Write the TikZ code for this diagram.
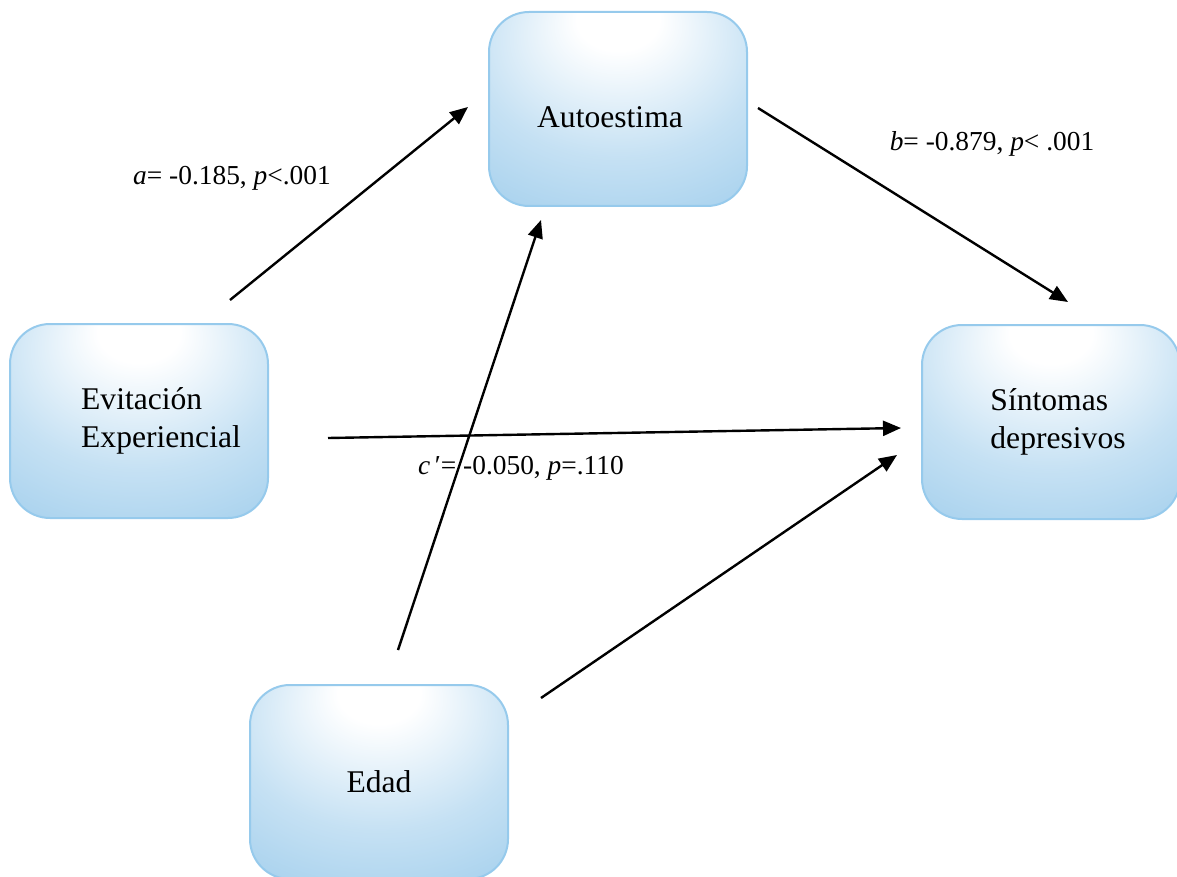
\documentclass[tikz,border=0pt]{standalone}
\usepackage{fontspec}
\setmainfont{Liberation Serif}
\usetikzlibrary{arrows.meta}
\definecolor{boxedge}{RGB}{150,202,236}
\definecolor{boxblue}{RGB}{140,195,232}
\pgfdeclareradialshading{boxsh}{\pgfpoint{0bp}{26bp}}{%
  color(0bp)=(white); color(8bp)=(white); color(28bp)=(boxblue!50!white); color(48bp)=(boxblue!85!white); color(70bp)=(boxblue)}
\begin{document}
\begin{tikzpicture}[x=0.5pt,y=-0.5pt,
  vbox/.style={draw=boxedge, line width=1pt, rounded corners=20pt, shading=boxsh,
    minimum width=129pt, minimum height=97pt, align=left, font=\fontsize{15.8}{19}\selectfont},
  conn/.style={line width=1.2pt, -{Triangle[length=9pt,width=7.5pt]}},
  lab/.style={font=\fontsize{13.7}{16}\selectfont, inner sep=0pt}]
\useasboundingbox (0,0) rectangle (1177,877);
\node[vbox] (auto) at (618,109) {\raisebox{-4pt}[\height][\depth]{\hspace*{-8pt}Autoestima}};
\node[vbox] (evit) at (139,421) {\hspace*{22pt}Evitación\\\hspace*{22pt}Experiencial};
\node[vbox] (sint) at (1051,422) {\hspace*{7pt}Síntomas\\\hspace*{7pt}depresivos};
\node[vbox] (edad) at (379,782) {Edad};
\coordinate (a1) at (230,300); \coordinate (a2) at (468,107);
\coordinate (b1) at (758,108); \coordinate (b2) at (1068,302);
\coordinate (c1) at (328,438); \coordinate (c2) at (901,428);
\coordinate (d1) at (398,650); \coordinate (d2) at (541,220);
\coordinate (e1) at (541,698); \coordinate (e2) at (897,455);
\draw[conn] (a1) -- (a2);
\draw[conn] (b1) -- (b2);
\draw[conn] (c1) -- (c2);
\draw[conn] (d1) -- (d2);
\draw[conn] (e1) -- (e2);
\node[lab] (la) at (232,178) {\textit{a}= -0.185, \textit{p}<.001};
\node[lab] (lb) at (992,144) {\textit{b}= -0.879, \textit{p}< .001};
\node[lab] (lc) at (521,468) {\textit{c}\,′= -0.050, \textit{p}=.110};
\end{tikzpicture}
\end{document}
